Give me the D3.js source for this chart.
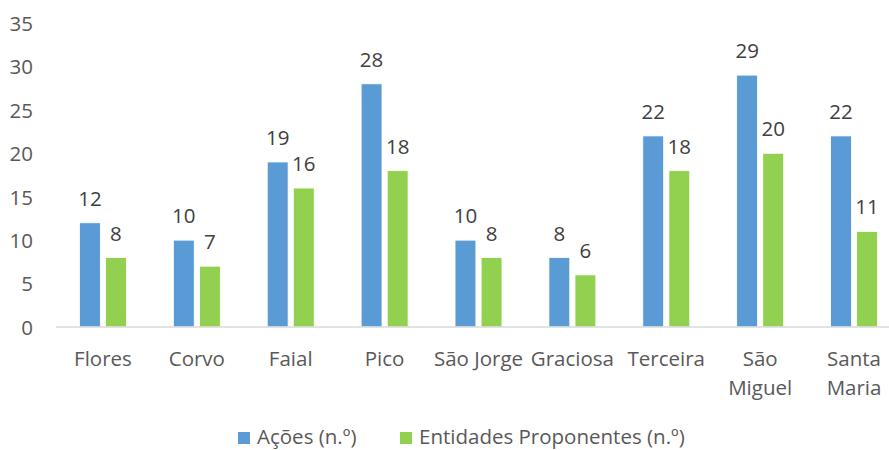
<!DOCTYPE html>
<html lang="pt">
<head>
<meta charset="UTF-8">
<title>Ações e Entidades Proponentes por ilha</title>
<script src="https://d3js.org/d3.v7.min.js"></script>
<style>
  body { margin: 0; background: #fff; }
  text { font-family: "Open Sans", sans-serif; }
</style>
</head>
<body>
<script>
// island names (use \n where the label wraps)
const islands = ["Flores", "Corvo", "Faial", "Pico", "São Jorge", "Graciosa", "Terceira", "São\nMiguel", "Santa\nMaria"];
const acoes = [12, 10, 19, 28, 10, 8, 22, 29, 22];
const entidades = [8, 7, 16, 18, 8, 6, 18, 20, 11];
const seriesNames = ["Ações (n.º)", "Entidades Proponentes (n.º)"];
const seriesColors = ["#5B9BD5", "#92D050"];
const yTicks = [0, 5, 10, 15, 20, 25, 30, 35];

const width = 889, height = 450;
const fs = 20.5;
const svg = d3.select("body").append("svg")
  .attr("width", width).attr("height", height);

// plot area runs a bit past the right edge, like the original crop
const x0 = d3.scaleBand().domain(islands).range([56, 901]).paddingInner(0.5).paddingOuter(0.25);
const x1 = d3.scaleBand().domain([0, 1]).range([0, x0.bandwidth()]).paddingInner(0.2);
const y = d3.scaleLinear().domain([0, 35]).range([327, 23]);

// y axis labels
const yAxis = svg.append("g").attr("transform", "translate(33,0)")
  .call(d3.axisLeft(y).tickValues(yTicks).tickSize(0).tickPadding(0));
yAxis.select(".domain").remove();
yAxis.selectAll("text")
  .attr("fill", "#595959").attr("font-size", fs).attr("dy", "0.36em");

// bars
const rows = islands.map((d, i) => ({ island: d, values: [acoes[i], entidades[i]] }));
const groups = svg.append("g").selectAll("g")
  .data(rows).join("g")
  .attr("transform", d => `translate(${x0(d.island)},0)`);

groups.selectAll("rect")
  .data(d => d.values.map((v, s) => ({ v, s })))
  .join("rect")
  .attr("x", d => x1(d.s))
  .attr("width", x1.bandwidth())
  .attr("y", d => y(d.v))
  .attr("height", d => y(0) - y(d.v))
  .attr("fill", d => seriesColors[d.s])
  .attr("stroke", "#fff").attr("stroke-width", 0.8);

groups.selectAll("text.val")
  .data(d => d.values.map((v, s) => ({ v, s })))
  .join("text").attr("class", "val")
  .attr("x", d => x1(d.s) + x1.bandwidth() / 2)
  .attr("y", d => y(d.v) - 17)
  .attr("text-anchor", "middle")
  .attr("fill", "#404040").attr("font-size", fs)
  .text(d => d.v);

// baseline
svg.append("line")
  .attr("x1", 56).attr("x2", 901)
  .attr("y1", y(0)).attr("y2", y(0))
  .attr("stroke", "#D9D9D9").attr("stroke-width", 1.5);

// category labels
const cat = svg.append("g").selectAll("text")
  .data(islands).join("text")
  .attr("x", d => x0(d) + x0.bandwidth() / 2)
  .attr("y", 366)
  .attr("text-anchor", "middle")
  .attr("fill", "#595959").attr("font-size", fs);
cat.selectAll("tspan")
  .data(d => d.split("\n"))
  .join("tspan")
  .attr("x", function() { return d3.select(this.parentNode).attr("x"); })
  .attr("dy", (d, i) => i === 0 ? 0 : 29)
  .text(d => d);

// legend
const legendX = [238, 400];
const legend = svg.append("g").selectAll("g")
  .data(seriesNames).join("g")
  .attr("transform", (d, i) => `translate(${legendX[i]},432)`);
legend.append("rect")
  .attr("width", 12).attr("height", 12)
  .attr("fill", (d, i) => seriesColors[i]);
legend.append("text")
  .attr("x", 19).attr("y", 12)
  .attr("fill", "#595959").attr("font-size", fs)
  .text(d => d);
</script>
</body>
</html>
